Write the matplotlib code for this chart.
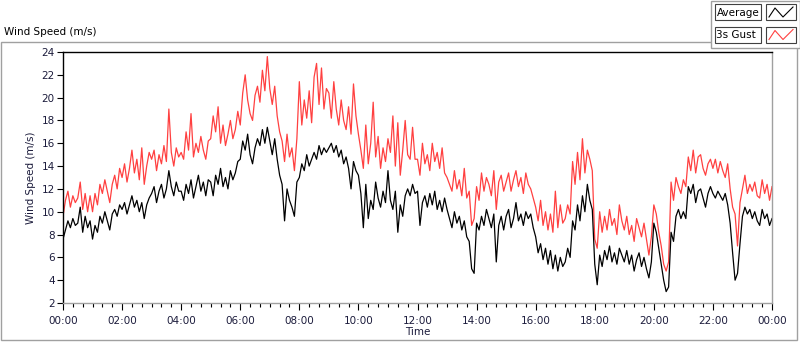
#!/usr/bin/env python3
"""
Wind speed over one day: average and 3 s gust, LabVIEW-style chart
"""
import numpy as np
import matplotlib
matplotlib.use('Agg')
import matplotlib.pyplot as plt
from matplotlib.patches import Rectangle
from matplotlib.lines import Line2D
from matplotlib.ticker import MultipleLocator, FixedLocator

matplotlib.rcParams['font.family'] = ['DejaVu Sans']

# one value every 5 minutes, 00:00 .. 24:00 (one row = one hour)
SAMPLE_MIN = 5

avg_speed = [
    7.6, 8.4, 9.2, 8.6, 9.4, 8.8, 9.0, 10.4, 8.2, 9.6, 8.6, 9.2,
    7.6, 8.8, 8.2, 9.6, 9.0, 10.0, 9.2, 8.4, 9.8, 10.2, 9.6, 10.6,
    10.2, 10.8, 9.8, 10.6, 11.4, 10.4, 11.0, 10.0, 10.8, 9.4, 10.6, 11.2,
    11.6, 12.2, 10.8, 11.8, 12.4, 11.2, 12.0, 13.6, 12.2, 11.4, 12.6, 11.8,
    11.8, 11.0, 12.4, 11.6, 12.8, 11.2, 12.2, 13.2, 11.8, 12.6, 11.4, 12.8,
    12.6, 11.4, 13.2, 12.4, 13.8, 12.2, 13.0, 12.0, 13.6, 12.8, 13.4, 14.4,
    14.6, 16.2, 15.4, 16.8, 15.0, 14.2, 15.6, 16.4, 15.8, 17.2, 16.0, 17.4,
    16.2, 15.0, 16.4, 14.6, 13.2, 12.4, 9.2, 12.0, 11.0, 10.4, 9.6, 12.6,
    13.0, 14.2, 13.6, 15.0, 14.0, 14.6, 15.2, 14.6, 15.8, 15.0, 15.6, 15.2,
    15.6, 16.0, 15.2, 15.8, 14.8, 15.4, 14.2, 14.8, 13.8, 12.0, 14.4, 13.6,
    13.2, 11.6, 8.6, 12.4, 9.4, 11.0, 10.2, 12.6, 11.2, 10.4, 11.8, 10.8,
    13.6, 11.0, 10.2, 11.8, 8.2, 10.6, 9.6, 11.4, 12.0, 11.4, 12.4, 11.6,
    11.8, 8.8, 10.8, 11.4, 10.4, 11.6, 10.6, 11.8, 10.2, 11.0, 10.0, 11.2,
    10.2, 9.4, 8.6, 10.0, 9.0, 9.6, 8.4, 9.2, 7.8, 7.4, 5.0, 4.6,
    9.0, 8.4, 9.6, 8.8, 10.2, 9.4, 8.6, 9.8, 5.6, 8.8, 9.6, 8.4,
    9.6, 10.2, 8.6, 9.4, 10.8, 9.2, 9.8, 8.8, 10.0, 9.4, 9.8, 8.6,
    7.8, 6.4, 7.2, 5.8, 6.8, 5.4, 6.6, 5.0, 6.2, 4.8, 6.0, 5.2,
    5.6, 6.8, 6.0, 9.2, 8.4, 10.6, 9.2, 11.4, 10.0, 12.4, 11.0, 10.2,
    5.4, 3.6, 6.2, 5.2, 6.6, 5.8, 7.0, 5.6, 6.4, 5.4, 6.8, 6.2,
    5.6, 6.6, 5.4, 6.2, 4.8, 5.8, 6.4, 5.2, 6.0, 5.0, 4.2, 5.6,
    9.0, 8.2, 6.8, 5.4, 4.0, 3.0, 3.4, 8.2, 7.4, 9.6, 10.2, 9.4,
    10.0, 9.4, 12.2, 11.6, 12.4, 10.8, 11.8, 12.0, 11.2, 10.4, 11.6, 12.2,
    11.6, 11.2, 11.8, 11.4, 11.0, 11.6, 10.6, 9.0, 6.4, 4.0, 4.6, 7.2,
    9.6, 10.4, 9.8, 10.2, 9.4, 10.0, 9.2, 8.8, 10.2, 9.4, 9.8, 8.8,
    9.4,
]

gust_speed = [
    9.6, 11.0, 11.8, 10.4, 11.4, 10.8, 11.2, 12.6, 10.2, 11.6, 10.0, 11.4,
    10.0, 11.6, 10.6, 12.4, 11.6, 12.8, 11.8, 10.8, 12.4, 13.2, 12.0, 13.8,
    13.0, 14.2, 12.6, 13.8, 15.4, 13.4, 14.6, 12.8, 15.6, 12.4, 14.0, 15.2,
    14.6, 15.4, 13.6, 15.0, 14.2, 15.8, 14.4, 19.0, 15.2, 14.0, 15.6, 14.8,
    15.2, 14.6, 17.0, 15.4, 18.6, 14.8, 16.0, 15.2, 16.6, 15.4, 14.6, 16.2,
    16.4, 18.4, 17.0, 19.2, 16.0, 17.6, 15.8, 16.8, 18.0, 16.4, 17.2, 18.8,
    17.6, 20.4, 22.0, 19.8, 18.6, 18.0, 20.2, 21.0, 19.6, 22.4, 20.6, 23.6,
    20.8, 19.4, 21.0, 18.4, 17.0, 16.2, 14.4, 16.8, 14.8, 15.6, 13.6, 16.4,
    21.4, 17.6, 19.8, 18.2, 20.6, 17.8, 21.8, 23.0, 19.4, 22.6, 19.0, 20.8,
    20.4, 18.2, 21.4, 19.0, 17.6, 19.8, 18.0, 17.2, 19.2, 16.8, 21.2, 18.4,
    16.8, 15.4, 13.8, 17.6, 14.2, 16.0, 19.6, 14.8, 16.6, 13.8, 15.6, 14.4,
    16.4, 15.2, 18.4, 14.0, 17.8, 13.2, 15.4, 18.0, 15.0, 14.6, 17.4, 14.6,
    14.6, 13.2, 16.0, 14.2, 15.0, 13.6, 16.0, 14.4, 15.2, 13.8, 15.6, 13.4,
    13.0, 12.4, 11.8, 13.6, 12.0, 12.8, 11.4, 13.8, 11.2, 11.8, 8.8, 9.4,
    12.2, 11.0, 13.4, 11.8, 13.0, 12.4, 11.4, 13.6, 10.2, 12.6, 13.2, 11.8,
    12.6, 13.4, 11.8, 12.8, 13.6, 12.2, 13.0, 11.6, 13.4, 12.4, 12.0, 11.2,
    10.4, 9.2, 11.0, 8.8, 10.0, 8.4, 9.8, 8.2, 11.8, 8.6, 10.6, 9.0,
    9.4, 10.6, 9.8, 14.4, 12.4, 15.2, 12.8, 16.4, 13.4, 15.4, 14.6, 13.6,
    7.6, 6.8, 10.0, 8.2, 9.6, 8.4, 10.2, 8.8, 9.4, 8.0, 10.6, 9.2,
    8.4, 9.6, 8.0, 8.8, 7.4, 9.4, 8.6, 7.8, 9.0, 7.6, 6.2, 7.8,
    10.6, 9.8, 8.2, 7.0, 5.4, 4.8, 5.6, 12.6, 11.0, 13.0, 12.2, 11.6,
    12.8, 12.2, 14.8, 13.6, 15.4, 13.4, 14.8, 15.0, 13.8, 13.2, 14.2, 14.6,
    13.8, 14.6, 13.4, 14.4, 13.6, 13.0, 14.2, 12.0, 10.4, 9.8, 7.0, 10.8,
    12.0, 13.2, 11.6, 12.4, 11.8, 12.6, 11.4, 11.2, 12.8, 11.6, 12.4, 11.0,
    12.2,
]

series_names = ['Average', '3s Gust']
hour_labels = ['00:00', '02:00', '04:00', '06:00', '08:00', '10:00', '12:00',
               '14:00', '16:00', '18:00', '20:00', '22:00', '00:00']

W, H = 800, 342
LABEL_COLOR = '#1c1c3c'
RED = '#ff4040'


def fpos(x, y):
    """pixel (top-left origin) -> figure fraction"""
    return x / W, 1 - y / H


def plot_wind():
    fig = plt.figure(figsize=(W / 100, H / 100), dpi=100)
    fig.patch.set_facecolor('white')

    # 外框
    panel = Rectangle(fpos(1, 340), 796 / W, 298 / H, transform=fig.transFigure,
                      fill=False, edgecolor='#a0a0a0', linewidth=1)
    fig.add_artist(panel)
    fig.text(*fpos(4, 32), 'Wind Speed (m/s)', fontsize=7.5, color='black',
             ha='left', va='center')

    left, right = 63 / W, 772 / W
    bottom, top = 1 - 303 / H, 1 - 52 / H
    ax = fig.add_axes([left, bottom, right - left, top - bottom])

    minutes = np.arange(len(avg_speed)) * SAMPLE_MIN
    ax.plot(minutes, gust_speed, color=RED, linewidth=0.9)
    ax.plot(minutes, avg_speed, color='black', linewidth=0.9)

    ax.set_xlim(0, 1440)
    ax.set_ylim(2, 24)
    ax.set_yticks(np.arange(2, 25, 2))
    ax.xaxis.set_major_locator(FixedLocator(np.arange(0, 1441, 120)))
    ax.set_xticklabels(hour_labels)
    ax.xaxis.set_minor_locator(MultipleLocator(20))

    ax.tick_params(axis='both', which='major', direction='out', length=4,
                   width=0.8, color='black', labelsize=7.5, labelcolor=LABEL_COLOR, pad=2)
    ax.tick_params(axis='x', which='major', length=5, pad=4)
    ax.tick_params(axis='x', which='minor', direction='out', length=3, width=0.8, color='black')

    ax.set_xlabel('Time', fontsize=7.5, color=LABEL_COLOR, labelpad=1)
    ax.set_ylabel('Wind Speed (m/s)', fontsize=7.5, color=LABEL_COLOR, labelpad=4)

    ax.spines['top'].set_color('black')
    ax.spines['left'].set_color('black')
    ax.spines['right'].set_color('#a0a0a0')
    ax.spines['bottom'].set_color('#a0a0a0')
    for sp in ax.spines.values():
        sp.set_linewidth(1)

    # 图例 (LabVIEW plot legend)
    lg_bg = Rectangle(fpos(711, 48), 89 / W, 47 / H, transform=fig.transFigure,
                      facecolor='white', edgecolor='#a0a0a0', linewidth=1, zorder=5)
    fig.add_artist(lg_bg)
    colors = ['black', RED]
    for i, (name, col) in enumerate(zip(series_names, colors)):
        y0 = 4 + i * 22.5
        box = Rectangle(fpos(715, y0 + 16), 46 / W, 16 / H, transform=fig.transFigure,
                        facecolor='white', edgecolor='#404040', linewidth=0.8, zorder=6)
        fig.add_artist(box)
        fig.text(*fpos(716.5, y0 + 8.5), name, fontsize=7.5, color='black',
                 ha='left', va='center', zorder=7)
        icon = Rectangle(fpos(766, y0 + 16), 30 / W, 16 / H, transform=fig.transFigure,
                         facecolor='white', edgecolor='#404040', linewidth=0.8, zorder=6)
        fig.add_artist(icon)
        zx = [769, 775, 783, 793]
        zy = [y0 + 13, y0 + 4, y0 + 13, y0 + 3]
        pts = [fpos(a, b) for a, b in zip(zx, zy)]
        fig.add_artist(Line2D([p[0] for p in pts], [p[1] for p in pts],
                              transform=fig.transFigure, color=col,
                              linewidth=0.8, zorder=7))

    fig.savefig('out.png', dpi=100)


if __name__ == '__main__':
    plot_wind()
